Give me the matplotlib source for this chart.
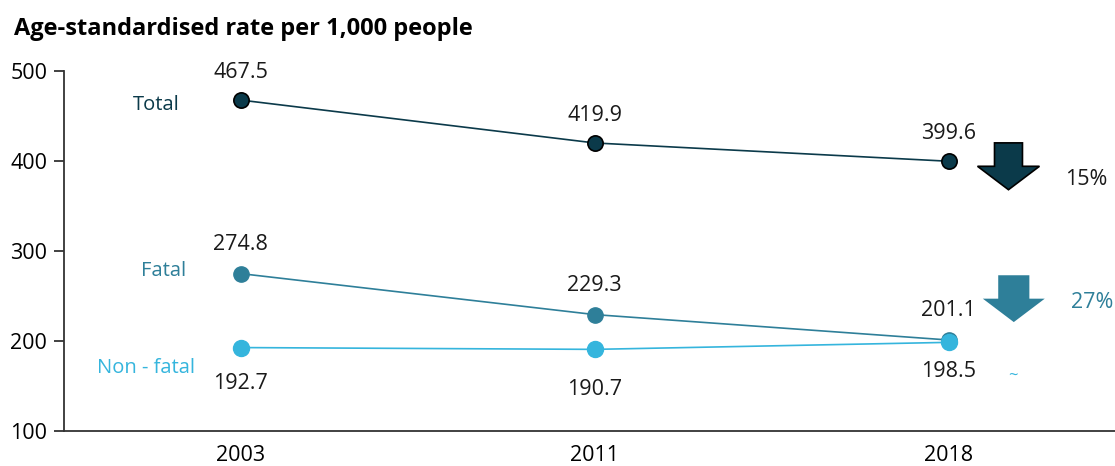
import matplotlib.pyplot as plt
from matplotlib.patches import FancyArrow

plt.rcParams['font.family'] = ['Open Sans', 'DejaVu Sans']

years = ['2003', '2011', '2018']
total = [467.5, 419.9, 399.6]
fatal = [274.8, 229.3, 201.1]
non_fatal = [192.7, 190.7, 198.5]
changes = ['15%', '27%', '~']

c_total = '#0b3a4a'
c_fatal = '#2e7f99'
c_non = '#35b5dd'
fs = 15.5

fig = plt.figure(figsize=(11.15, 4.66), dpi=100)
ax = fig.add_axes([0.0574, 0.075, 0.9426, 0.773])

x = range(len(years))
ax.plot(x, total, color=c_total, lw=1.2, marker='o', ms=11,
        markerfacecolor=c_total, markeredgecolor='black', markeredgewidth=1.2, zorder=3)
ax.plot(x, fatal, color=c_fatal, lw=1.2, marker='o', ms=11,
        markerfacecolor=c_fatal, markeredgecolor=c_fatal, zorder=3)
ax.plot(x, non_fatal, color=c_non, lw=1.2, marker='o', ms=11.5,
        markerfacecolor=c_non, markeredgecolor=c_non, zorder=3)

# value labels
for i, v in enumerate(total):
    ax.annotate(f'{v:.1f}', (i, v), xytext=(0, 20), textcoords='offset points',
                ha='center', va='center', fontsize=fs, color='#1a1a1a')
for i, v in enumerate(fatal):
    ax.annotate(f'{v:.1f}', (i, v), xytext=(0, 21), textcoords='offset points',
                ha='center', va='center', fontsize=fs, color='#1a1a1a')
below = [26, 29, 21]
for i, v in enumerate(non_fatal):
    ax.annotate(f'{v:.1f}', (i, v), xytext=(0, -below[i]), textcoords='offset points',
                ha='center', va='center', fontsize=fs, color='#1a1a1a')

# series names
fs_name = 14.5
ax.text(-0.172, total[0] - 5, 'Total', ha='right', va='center', fontsize=fs_name, color=c_total)
ax.text(-0.155, fatal[0] + 3, 'Fatal', ha='right', va='center', fontsize=fs_name, color=c_fatal)
ax.text(-0.13, non_fatal[0] - 23, 'Non - fatal', ha='right', va='center', fontsize=fs_name, color=c_non)

# change arrows
ax.add_patch(FancyArrow(2.169, 420, 0, -52, width=0.079, head_width=0.175, head_length=26,
                        length_includes_head=True, facecolor=c_total, edgecolor='black',
                        lw=1.2, zorder=3))
ax.add_patch(FancyArrow(2.184, 273, 0, -52, width=0.088, head_width=0.175, head_length=26,
                        length_includes_head=True, facecolor=c_fatal, edgecolor='none', zorder=3))
ax.text(2.328, 379, changes[0], ha='left', va='center', fontsize=fs, color='#1a1a1a')
ax.text(2.345, 243, changes[1], ha='left', va='center', fontsize=fs, color=c_fatal)
ax.text(2.18, 160, changes[2], ha='center', va='center', fontsize=12, color=c_non)

ax.set_xlim(-0.5, 2.47)
ax.set_ylim(100, 500)
ax.set_yticks([100, 200, 300, 400, 500])
ax.set_xticks(list(x))
ax.set_xticklabels(years)

for s in ['top', 'right']:
    ax.spines[s].set_visible(False)
ax.spines['left'].set_color('#333333')
ax.spines['bottom'].set_color('#333333')
ax.spines['left'].set_linewidth(1.3)
ax.spines['bottom'].set_linewidth(1.3)
ax.tick_params(axis='y', length=7, width=1.3, color='#333333', labelsize=fs, pad=5)
ax.tick_params(axis='x', length=0, labelsize=fs, pad=10)

fig.text(0.0125, 0.937, 'Age-standardised rate per 1,000 people', fontsize=17,
         fontweight='bold', ha='left', va='center', color='black')

fig.savefig('out.png', dpi=100)
